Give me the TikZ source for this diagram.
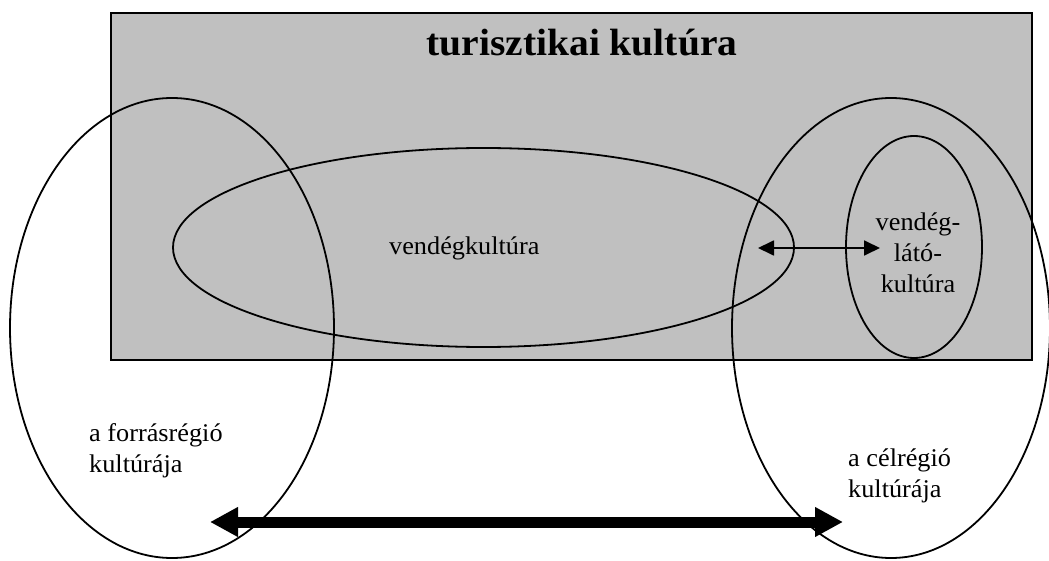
\documentclass[tikz,border=0pt]{standalone}
\usepackage{fontspec}
\setmainfont{Liberation Serif}
\usetikzlibrary{arrows.meta}
\definecolor{boxgray}{HTML}{C0C0C0}
\newcommand\wtxt[1]{\scalebox{1.03}[1]{#1}}
\begin{document}
\begin{tikzpicture}[x=1pt,y=-1pt,
  region/.style={draw=black,line width=1.8pt},
  lbl/.style={inner sep=0pt,font=\fontsize{25.5}{31}\selectfont},
  thinarrow/.style={line width=1.8pt,{Triangle[length=16pt,width=15pt]}-{Triangle[length=16pt,width=15pt]}},
  thickarrow/.style={line width=11pt,{Triangle[length=28pt,width=28pt]}-{Triangle[length=28pt,width=28pt]}}]
\useasboundingbox (0,0) rectangle (1049,561);
\node[draw=black,line width=2.2pt,fill=boxgray,minimum width=921pt,minimum height=347pt,anchor=north west,inner sep=0pt] (box) at (110,12) {};
\node[inner sep=0pt,anchor=base,font=\fontsize{38}{42}\selectfont\bfseries] (title) at (582,56) {\scalebox{1.04}[1]{turisztikai kultúra}};
\draw[region] (172,328) ellipse [x radius=162, y radius=230];
\draw[region] (891,328) ellipse [x radius=159, y radius=230];
\draw[region] (483.5,247.5) ellipse [x radius=310.5, y radius=99.5];
\draw[region] (914,247) ellipse [x radius=68, y radius=111];
\node[lbl,anchor=base west] (guest) at (389,255) {\wtxt{vendégkultúra}};
\node[lbl,anchor=base,align=center] (host) at (918,292) {\wtxt{vendég-}\\\wtxt{látó-}\\\wtxt{kultúra}};
\node[lbl,anchor=base west,align=left] (src) at (89,472) {\wtxt{a forrásrégió}\\\wtxt{kultúrája}};
\node[lbl,anchor=base west,align=left] (dst) at (848,497) {\wtxt{a célrégió}\\\wtxt{kultúrája}};
\coordinate (a1) at (758,248);
\coordinate (a2) at (880,248);
\coordinate (b1) at (210,522);
\coordinate (b2) at (843,522);
\draw[thinarrow] (a1) -- (a2);
\draw[thickarrow] (b1) -- (b2);
\end{tikzpicture}
\end{document}
